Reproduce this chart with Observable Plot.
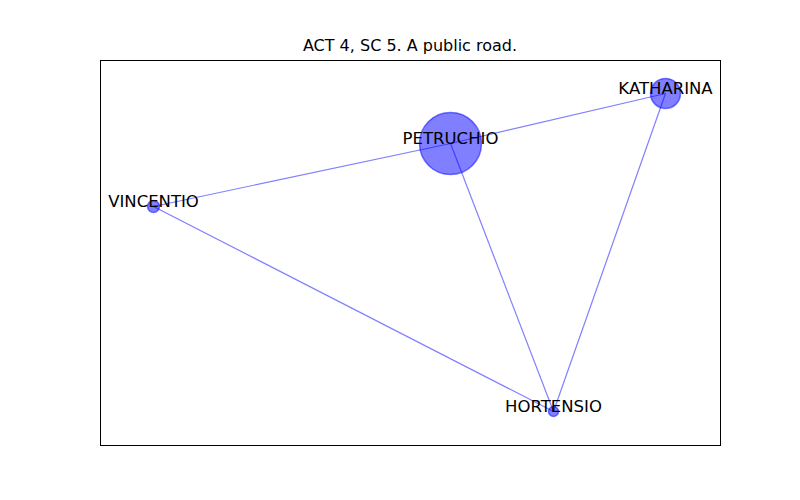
<!DOCTYPE html>
<html><head><meta charset="utf-8">
<script src="https://cdn.jsdelivr.net/npm/d3@7"></script>
<script src="https://cdn.jsdelivr.net/npm/@observablehq/plot@0.6"></script>
<style>body{margin:0;background:#fff;font-family:"DejaVu Sans",sans-serif}
#t{height:60px;width:800px;position:relative}
#t span{position:absolute;top:36px;left:0;width:820px;text-align:center;font-size:16px}</style>
</head><body>
<div id="t"><span>ACT 4, SC 5. A public road.</span></div>
<div id="c"></div>
<script>
const names = ["PETRUCHIO","KATHARINA","VINCENTIO","HORTENSIO"];
const xs = [350,565,53,453];
const ys = [302,352,239,34];
const radii = [31,15,6,5];
const edges = [["PETRUCHIO","KATHARINA"],["PETRUCHIO","VINCENTIO"],["PETRUCHIO","HORTENSIO"],["KATHARINA","HORTENSIO"],["VINCENTIO","HORTENSIO"]];
const nodes = names.map((n,i)=>({name:n,x:xs[i],y:ys[i],r:radii[i]}));
const byName = Object.fromEntries(nodes.map(d=>[d.name,d]));
const links = edges.map(([a,b])=>({x1:byName[a].x,y1:byName[a].y,x2:byName[b].x,y2:byName[b].y}));
const chart = Plot.plot({
  width:800,height:440,marginLeft:100,marginRight:80,marginTop:0,marginBottom:55,
  x:{domain:[0,620],axis:null},y:{domain:[0,385],axis:null},r:{type:"identity"},
  style:{fontFamily:"DejaVu Sans"},
  marks:[
    Plot.frame({stroke:"black"}),
    Plot.link(links,{x1:"x1",y1:"y1",x2:"x2",y2:"y2",stroke:"blue",strokeOpacity:0.5,strokeWidth:1.2}),
    Plot.dot(nodes,{x:"x",y:"y",r:"r",fill:"blue",fillOpacity:0.5,stroke:"blue",strokeOpacity:0.5}),
    Plot.text(nodes,{x:"x",y:"y",text:"name",fontSize:16.5,fill:"black",dy:-5})
  ]
});
document.getElementById("c").appendChild(chart);
</script></body></html>
